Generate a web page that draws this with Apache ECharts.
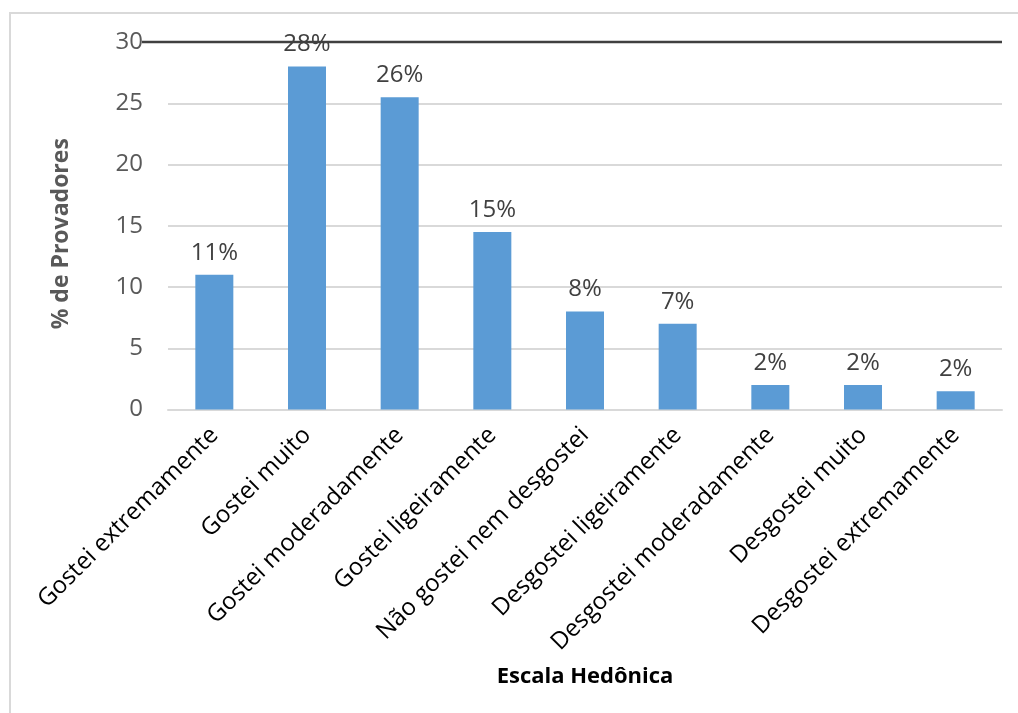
<!DOCTYPE html>
<html>
<head>
<meta charset="utf-8">
<script src="https://cdn.jsdelivr.net/npm/echarts@6/dist/echarts.min.js"></script>
<style>
  html, body { margin: 0; padding: 0; background: #fff; }
  #chart { width: 1018px; height: 713px; }
</style>
</head>
<body>
<div id="chart"></div>
<script>
// Hedonic scale categories and share of tasters (%)
const categories = [
  'Gostei extremamente',
  'Gostei muito',
  'Gostei moderadamente',
  'Gostei ligeiramente',
  'Não gostei nem desgostei',
  'Desgostei ligeiramente',
  'Desgostei moderadamente',
  'Desgostei muito',
  'Desgostei extremamente'
];
const provadores = [11, 28, 25.5, 14.5, 8, 7, 2, 2, 1.5];
const yTicks = { min: 0, max: 30, interval: 5 };

const FONT = '"Open Sans", sans-serif';
const chart = echarts.init(document.getElementById('chart'), null, { renderer: 'canvas' });

chart.setOption({
  animation: false,
  backgroundColor: '#ffffff',
  grid: { left: 168, right: 16, top: 42, bottom: 303.5, containLabel: false },
  xAxis: {
    type: 'category',
    data: categories,
    name: 'Escala Hedônica',
    nameLocation: 'middle',
    nameGap: 256,
    nameTextStyle: { fontFamily: FONT, fontWeight: 'bold', fontSize: 22, color: '#000' },
    axisLine: { show: true, lineStyle: { color: '#d9d9d9', width: 2 } },
    axisTick: { show: false },
    axisLabel: {
      rotate: 45,
      interval: 0,
      margin: 22,
      fontFamily: FONT,
      fontSize: 24,
      color: '#000'
    }
  },
  yAxis: {
    type: 'value',
    min: yTicks.min,
    max: yTicks.max,
    interval: yTicks.interval,
    name: '% de Provadores',
    nameLocation: 'middle',
    nameRotate: 90,
    nameGap: 95,
    nameTextStyle: {
      fontFamily: FONT, fontWeight: 'bold', fontSize: 23, color: '#595959',
      padding: [0, 16, 0, 0]
    },
    axisLine: { show: false },
    axisTick: { show: false },
    axisLabel: { margin: 25, fontFamily: FONT, fontSize: 24, color: '#595959' },
    splitLine: { show: true, lineStyle: { color: '#d9d9d9', width: 2 } }
  },
  series: [{
    type: 'bar',
    data: provadores,
    barWidth: 38,
    itemStyle: { color: '#5b9bd5' },
    label: {
      show: true,
      position: 'top',
      distance: 10,
      fontFamily: FONT,
      fontSize: 24,
      color: '#404040',
      formatter: p => Math.round(p.value) + '%'
    }
  }]
});

// Dark reference line at the top of the scale, plus the outer frame
const yTop = chart.convertToPixel({ yAxisIndex: 0 }, yTicks.max);
chart.setOption({
  graphic: [
    {
      type: 'rect',
      shape: { x: 10, y: 13, width: 1030, height: 720 },
      style: { fill: 'none', stroke: '#d9d9d9', lineWidth: 2 },
      silent: true
    },
    {
      type: 'line',
      shape: { x1: 142, y1: yTop, x2: 1002, y2: yTop },
      style: { stroke: '#404040', lineWidth: 2.5 },
      z: 10,
      silent: true
    }
  ]
});
</script>
</body>
</html>
